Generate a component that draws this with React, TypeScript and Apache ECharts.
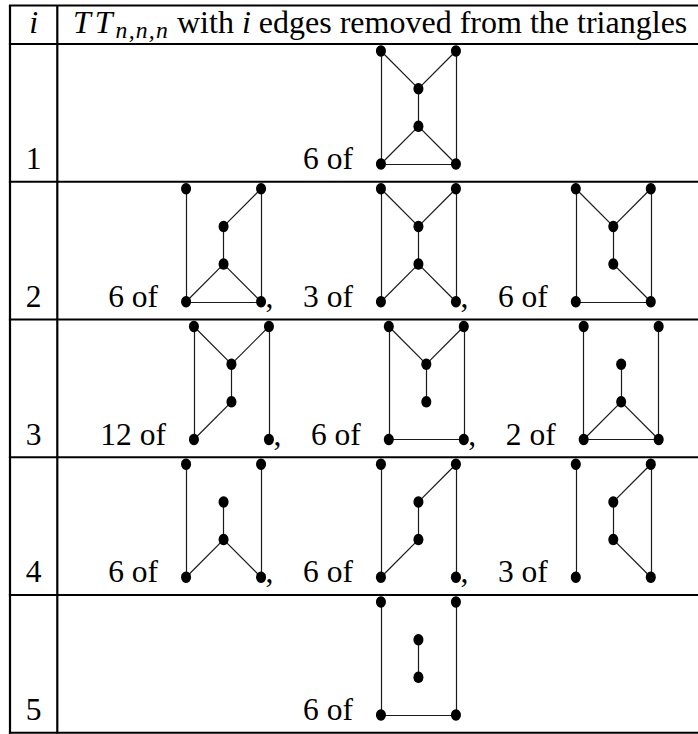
import React, { useEffect, useRef } from "react";
import * as echarts from "echarts";

// ---------------- data ----------------
const rowLabels = ["1", "2", "3", "4", "5"];
const headerIndexLabel = "i";
const headerGraphName = "TT";
const headerSubscript = "n,n,n";
const headerWith = "with";
const headerRest = "edges removed from the triangles";

// node template (unit square): top-left, top-right, upper middle, lower middle, bottom-left, bottom-right
const nodeUnitX = [0, 1, 0.5, 0.5, 0, 1];
const nodeUnitY = [0, 0, 1 / 3, 2 / 3, 1, 1];

// edge lists of every drawn graph
const graph1a = [[0, 4], [1, 5], [0, 2], [1, 2], [2, 3], [3, 4], [3, 5], [4, 5]];
const graph2a = [[0, 4], [1, 5], [1, 2], [2, 3], [3, 4], [3, 5], [4, 5]];
const graph2b = [[0, 4], [1, 5], [0, 2], [1, 2], [2, 3], [3, 4], [3, 5]];
const graph2c = [[0, 4], [1, 5], [0, 2], [1, 2], [2, 3], [3, 5], [4, 5]];
const graph3a = [[0, 4], [1, 5], [0, 2], [1, 2], [2, 3], [3, 4]];
const graph3b = [[0, 4], [1, 5], [0, 2], [1, 2], [2, 3], [4, 5]];
const graph3c = [[0, 4], [1, 5], [2, 3], [3, 4], [3, 5], [4, 5]];
const graph4a = [[0, 4], [1, 5], [2, 3], [3, 4], [3, 5]];
const graph4b = [[0, 4], [1, 5], [1, 2], [2, 3], [3, 4]];
const graph4c = [[0, 4], [1, 5], [1, 2], [2, 3], [3, 5]];
const graph5a = [[0, 4], [1, 5], [2, 3], [4, 5]];

const rowCounts = [[6], [6, 3, 6], [12, 6, 2], [6, 6, 3], [6]];
const rowGraphs = [
  [graph1a],
  [graph2a, graph2b, graph2c],
  [graph3a, graph3b, graph3c],
  [graph4a, graph4b, graph4c],
  [graph5a],
];

// ---------------- layout / style ----------------
const W = 698;
const H = 734;
const FONT = "Liberation Serif";
const FS = 31.5;
const tableLeft = 10;
const colSep = 57.3;
const tableRight = 700;
const tableTop = 5.5;
const headerBottom = 44;
const rowH = 137.75;
const cellCenterX = 379.5;
const headerStartX = 73;
const headerEndX = 688;
const SUB_RATIO = 0.74;
const mathGapT = 4; // extra gap between the two italic T's
const mathGapSub = 3; // gap before the subscript
const subCharGap = 1.2; // extra spacing inside the subscript
const mathGapAfter = 0; // extra gap after the subscript
const graphW = 75;
const graphH = 113;
const graphTopPad = 7;
const textBaseGap = 12.5;
const textToGraph = 28;
const graphToNext = 42;
const CENTRAL = 0.3375; // central baseline offset (em)

function App() {
  const ref = useRef<HTMLDivElement>(null);

  useEffect(() => {
    if (!ref.current) return;
    const chart = echarts.init(ref.current, undefined, { renderer: "svg", width: W, height: H });

    const canvas = document.createElement("canvas");
    const ctx = canvas.getContext("2d")!;
    const tw = (t: string, size: number, italic = false) => {
      ctx.font = `${italic ? "italic " : ""}${size}px ${FONT}`;
      return ctx.measureText(t).width;
    };
    const yFor = (baseline: number, size: number) => baseline - CENTRAL * size;

    const graphics: any[] = [];
    const txt = (text: string, x: number, baseline: number, opts: any = {}) => {
      const size = opts.size || FS;
      graphics.push({
        type: "text",
        silent: true,
        style: {
          text,
          x,
          y: yFor(baseline, size),
          fill: "#000",
          fontSize: size,
          fontFamily: FONT,
          fontStyle: opts.italic ? "italic" : "normal",
          textAlign: opts.align || "left",
          textVerticalAlign: "middle",
        },
      });
    };
    const rule = (x1: number, y1: number, x2: number, y2: number) => {
      graphics.push({
        type: "line",
        silent: true,
        shape: { x1, y1, x2, y2 },
        style: { stroke: "#000", lineWidth: 2.2 },
      });
    };

    // table rules
    const rowBottoms = rowLabels.map((_, i) => headerBottom + rowH * (i + 1));
    const tableBottom = rowBottoms[rowBottoms.length - 1];
    rule(tableLeft - 1.1, tableTop, tableRight, tableTop);
    rule(tableLeft - 1.1, headerBottom, tableRight, headerBottom);
    rowBottoms.forEach((b) => rule(tableLeft - 1.1, b, tableRight, b));
    rule(tableLeft, tableTop, tableLeft, tableBottom + 1.1);
    rule(colSep, tableTop, colSep, tableBottom + 1.1);

    // header (font size fitted to the header span)
    const headerBase = 33.3;
    const idxX = (tableLeft + colSep) / 2;
    const tChars = headerGraphName.split("");
    const subChars = headerSubscript.split("");
    const mathWidth = (s: number) => {
      const sub = s * SUB_RATIO;
      let w = 0;
      tChars.forEach((c, k) => (w += tw(c, s, true) + (k < tChars.length - 1 ? mathGapT : 0)));
      w += mathGapSub;
      subChars.forEach((c) => (w += tw(c, sub, true) + subCharGap));
      return w + mathGapAfter;
    };
    const headerWidth = (s: number) =>
      mathWidth(s) + tw(" ", s) + tw(headerWith + " ", s) + tw(headerIndexLabel + " ", s, true) + tw(headerRest, s);
    const HFS = 31 * (headerEndX - headerStartX) / headerWidth(31);
    const HSUB = HFS * SUB_RATIO;
    txt(headerIndexLabel, idxX, headerBase, { italic: true, align: "center", size: HFS });
    let hx = headerStartX;
    tChars.forEach((c, k) => {
      txt(c, hx, headerBase, { italic: true, size: HFS });
      hx += tw(c, HFS, true) + (k < tChars.length - 1 ? mathGapT : 0);
    });
    hx += mathGapSub;
    subChars.forEach((c) => {
      txt(c, hx, headerBase + 5, { italic: true, size: HSUB });
      hx += tw(c, HSUB, true) + subCharGap;
    });
    hx += mathGapAfter + tw(" ", HFS);
    txt(headerWith, hx, headerBase, { size: HFS });
    hx += tw(headerWith + " ", HFS);
    txt(headerIndexLabel, hx, headerBase, { italic: true, size: HFS });
    hx += tw(headerIndexLabel + " ", HFS, true);
    txt(headerRest, hx, headerBase, { size: HFS });

    // rows
    const nodeData: number[][] = [];
    const edgeData: any[] = [];
    rowLabels.forEach((lab, r) => {
      const top = r === 0 ? headerBottom : rowBottoms[r - 1];
      const bottom = rowBottoms[r];
      const base = bottom - textBaseGap;
      txt(lab, idxX, base, { align: "center" });

      const counts = rowCounts[r];
      const graphs = rowGraphs[r];
      const labels = counts.map((c) => `${c} of`);
      const widths = labels.map((l) => tw(l, FS));
      const n = counts.length;
      const total =
        widths.reduce((a, b) => a + b, 0) + n * (textToGraph + graphW) + (n - 1) * graphToNext;
      let x = cellCenterX - total / 2;
      const gy = top + graphTopPad;
      counts.forEach((_, k) => {
        txt(labels[k], x, base);
        x += widths[k] + textToGraph;
        const gx = x;
        const pts = nodeUnitX.map((ux, j) => [gx + ux * graphW, gy + nodeUnitY[j] * graphH]);
        graphs[k].forEach(([a, b]) => edgeData.push({ coords: [pts[a], pts[b]] }));
        pts.forEach((p) => nodeData.push(p));
        if (k < n - 1) {
          txt(",", gx + graphW + 4.5, base);
          x += graphW + graphToNext;
        }
      });
    });

    chart.setOption({
      animation: false,
      backgroundColor: "#fff",
      grid: { left: 0, right: 0, top: 0, bottom: 0, containLabel: false },
      xAxis: { type: "value", min: 0, max: W, show: false },
      yAxis: { type: "value", min: 0, max: H, inverse: true, show: false },
      series: [
        {
          type: "lines",
          coordinateSystem: "cartesian2d",
          silent: true,
          lineStyle: { color: "#1a1a1a", width: 1.2, opacity: 1 },
          data: edgeData,
          z: 2,
        },
        {
          type: "scatter",
          silent: true,
          symbol: "circle",
          symbolSize: [10, 11.5],
          itemStyle: { color: "#000", opacity: 1 },
          data: nodeData,
          z: 3,
        },
      ],
      graphic: graphics,
    });

    return () => chart.dispose();
  }, []);

  return (
    <div
      ref={ref}
      style={{ position: "fixed", left: 0, top: 0, width: W, height: H, background: "#fff" }}
    />
  );
}

export default App;
